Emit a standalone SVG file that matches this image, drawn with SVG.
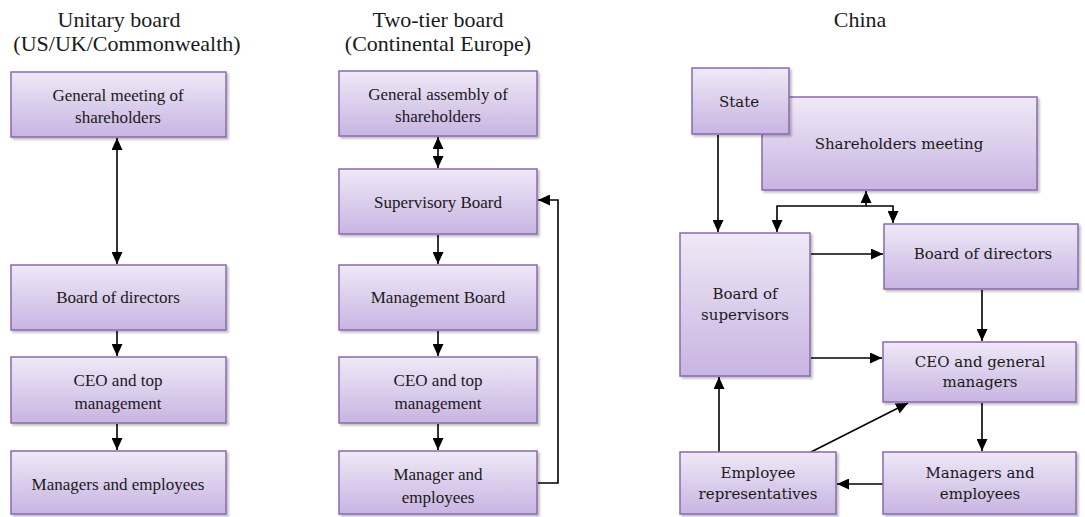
<svg xmlns="http://www.w3.org/2000/svg" width="1085" height="517" viewBox="0 0 1085 517">
<defs>
<linearGradient id="g" x1="0" y1="0" x2="0" y2="1">
<stop offset="0" stop-color="#efe9f7"/>
<stop offset="1" stop-color="#c8b4e2"/>
</linearGradient>
<filter id="sh" x="-5%" y="-5%" width="115%" height="120%">
<feDropShadow dx="2" dy="2" stdDeviation="1" flood-color="#000" flood-opacity="0.25"/>
</filter>
<marker id="ah" viewBox="0 0 12 11" refX="12" refY="5.5" markerWidth="12" markerHeight="11" markerUnits="userSpaceOnUse" orient="auto-start-reverse">
<path d="M0,0 L12,5.5 L0,11 z" fill="#000"/>
</marker>
</defs>
<style>
.box{fill:url(#g);stroke:#8a6aae;stroke-width:1.5;filter:url(#sh)}
.t{font-family:'Liberation Serif','Times New Roman',serif;font-size:17px;fill:#1a1a1a;text-anchor:middle}
.c{font-family:'DejaVu Serif',serif;font-size:15px;fill:#1a1a1a;text-anchor:middle}
.h{font-family:'Liberation Serif','Times New Roman',serif;font-size:22px;fill:#1a1a1a;text-anchor:middle}
.ln{fill:none;stroke:#000;stroke-width:1.6}
.a{marker-end:url(#ah)}
.b{marker-start:url(#ah);marker-end:url(#ah)}
</style>
<rect width="1085" height="517" fill="#fff"/>
<g id="titles">
<text class="h" x="119" y="27">Unitary board</text>
<text class="h" x="127" y="51">(US/UK/Commonwealth)</text>
<text class="h" x="438" y="27">Two-tier board</text>
<text class="h" x="438" y="51">(Continental Europe)</text>
<text class="h" x="860" y="27">China</text>
</g>
<g id="connectors">
<line class="ln b" x1="117" y1="138" x2="117" y2="264"/>
<line class="ln a" x1="117" y1="331" x2="117" y2="356"/>
<line class="ln a" x1="117" y1="424" x2="117" y2="450"/>
<line class="ln b" x1="438" y1="137" x2="438" y2="168"/>
<line class="ln a" x1="438" y1="235" x2="438" y2="264"/>
<line class="ln a" x1="438" y1="331" x2="438" y2="356"/>
<line class="ln a" x1="438" y1="424" x2="438" y2="450"/>
<polyline class="ln a" points="538,483 558,483 558,200 538,200"/>
<line class="ln a" x1="718" y1="135" x2="718" y2="232"/>
<line class="ln a" x1="866" y1="206" x2="866" y2="191"/>
<polyline class="ln a" points="866,206 777,206 777,232"/>
<polyline class="ln a" points="866,206 893,206 893,223"/>
<line class="ln a" x1="811" y1="254" x2="883" y2="254"/>
<line class="ln a" x1="982" y1="290" x2="982" y2="341"/>
<line class="ln a" x1="811" y1="358" x2="882" y2="358"/>
<line class="ln a" x1="982" y1="403" x2="982" y2="451"/>
<line class="ln a" x1="883" y1="484" x2="837" y2="484"/>
<line class="ln a" x1="719" y1="452" x2="719" y2="377"/>
<line class="ln a" x1="811" y1="452" x2="908" y2="403"/>
</g>
<g id="n-gm"><rect class="box" x="11" y="72" width="215" height="65"/><text class="t" x="118" y="101">General meeting of</text><text class="t" x="118" y="123">shareholders</text></g>
<g id="n-bod1"><rect class="box" x="11" y="265" width="215" height="65"/><text class="t" x="118" y="303">Board of directors</text></g>
<g id="n-ceo1"><rect class="box" x="11" y="357" width="215" height="66"/><text class="t" x="118" y="386">CEO and top</text><text class="t" x="118" y="409">management</text></g>
<g id="n-me1"><rect class="box" x="11" y="451" width="215" height="63"/><text class="t" x="118" y="490">Managers and employees</text></g>
<g id="n-ga"><rect class="box" x="339" y="71" width="198" height="65"/><text class="t" x="438" y="100">General assembly of</text><text class="t" x="438" y="122">shareholders</text></g>
<g id="n-sb"><rect class="box" x="339" y="169" width="198" height="65"/><text class="t" x="438" y="208">Supervisory Board</text></g>
<g id="n-mb"><rect class="box" x="339" y="265" width="198" height="65"/><text class="t" x="438" y="303">Management Board</text></g>
<g id="n-ceo2"><rect class="box" x="339" y="357" width="198" height="66"/><text class="t" x="438" y="386">CEO and top</text><text class="t" x="438" y="409">management</text></g>
<g id="n-me2"><rect class="box" x="339" y="451" width="198" height="63"/><text class="t" x="438" y="480">Manager and</text><text class="t" x="438" y="503">employees</text></g>
<g id="n-shm"><rect class="box" x="762" y="97" width="275" height="93"/><text class="c" x="899" y="149">Shareholders meeting</text></g>
<g id="n-state"><rect class="box" x="692" y="68" width="97" height="66"/><text class="c" x="739" y="107">State</text></g>
<g id="n-bos"><rect class="box" x="680" y="233" width="130" height="143"/><text class="c" x="745" y="299">Board of</text><text class="c" x="745" y="320">supervisors</text></g>
<g id="n-bod3"><rect class="box" x="884" y="224" width="194" height="65"/><text class="c" x="983" y="259">Board of directors</text></g>
<g id="n-ceo3"><rect class="box" x="883" y="342" width="193" height="60"/><text class="c" x="980" y="367">CEO and general</text><text class="c" x="980" y="387">managers</text></g>
<g id="n-me3"><rect class="box" x="883" y="452" width="193" height="62"/><text class="c" x="980" y="478">Managers and</text><text class="c" x="980" y="499">employees</text></g>
<g id="n-er"><rect class="box" x="680" y="452" width="156" height="62"/><text class="c" x="758" y="478">Employee</text><text class="c" x="758" y="499">representatives</text></g>
</svg>
